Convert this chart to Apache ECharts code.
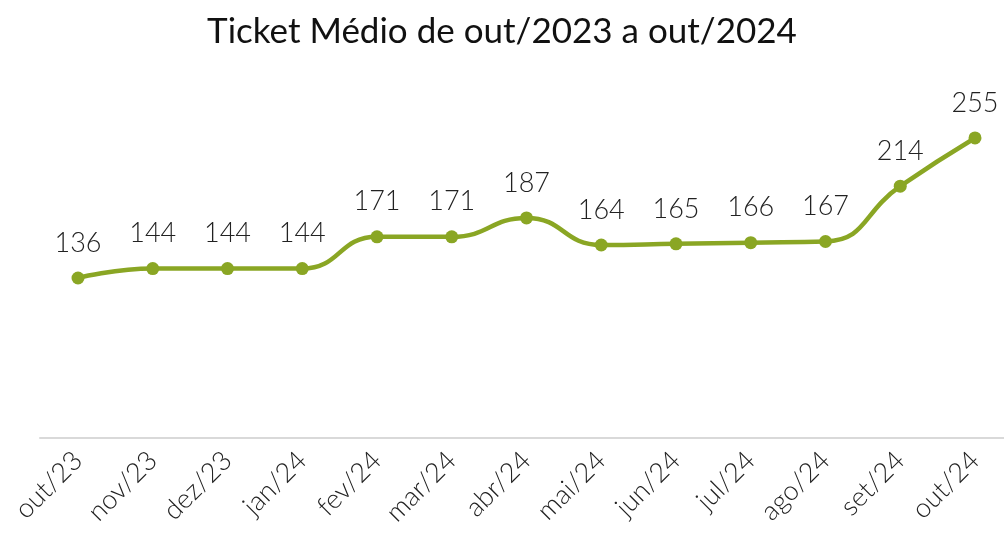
<!DOCTYPE html>
<html><head><meta charset="utf-8">
<script src="https://cdn.jsdelivr.net/npm/echarts@6/dist/echarts.min.js"></script>
<style>html,body{margin:0;padding:0;background:#fff}#c{width:1004px;height:545px}</style>
</head><body><div id="c"></div>
<script>
const categories = ["out/23","nov/23","dez/23","jan/24","fev/24","mar/24","abr/24","mai/24","jun/24","jul/24","ago/24","set/24","out/24"];
const values = [136,144,144,144,171,171,187,164,165,166,167,214,255];
const titleText = "Ticket Médio de out/2023 a out/2024";
const FONT = "Lato";
const chart = echarts.init(document.getElementById('c'));
chart.setOption({
  animation:false,
  backgroundColor:'#fff',
  title:{text:titleText,left:'center',top:9,textStyle:{fontFamily:FONT,fontSize:35,fontWeight:'normal',color:'#111'}},
  grid:[{left:78,right:29,top:85,bottom:107},{left:40,right:0,top:85,bottom:107}],
  xAxis:[{type:'category',data:categories,boundaryGap:false,gridIndex:0,
    axisLine:{show:false},axisTick:{show:false},splitLine:{show:false},
    axisLabel:{rotate:45,margin:18,fontFamily:FONT,fontWeight:300,fontSize:27,color:'#222',interval:0}},
    {type:'value',gridIndex:1,min:0,max:1,axisLine:{show:true,lineStyle:{color:'#d9d9d9',width:2}},
     axisTick:{show:false},axisLabel:{show:false},splitLine:{show:false}}],
  yAxis:[{type:'value',min:0,max:300,show:false,gridIndex:0,splitLine:{show:false}},
    {type:'value',min:0,max:1,show:false,gridIndex:1,splitLine:{show:false}}],
  series:[{type:'line',data:values,smooth:0.5,xAxisIndex:0,yAxisIndex:0,
    lineStyle:{color:'#8aa624',width:4.5},itemStyle:{color:'#8aa624'},
    symbol:'circle',symbolSize:13,
    label:{show:true,position:'top',distance:15,fontFamily:FONT,fontWeight:300,fontSize:27,color:'#222'}}]
});
</script></body></html>
